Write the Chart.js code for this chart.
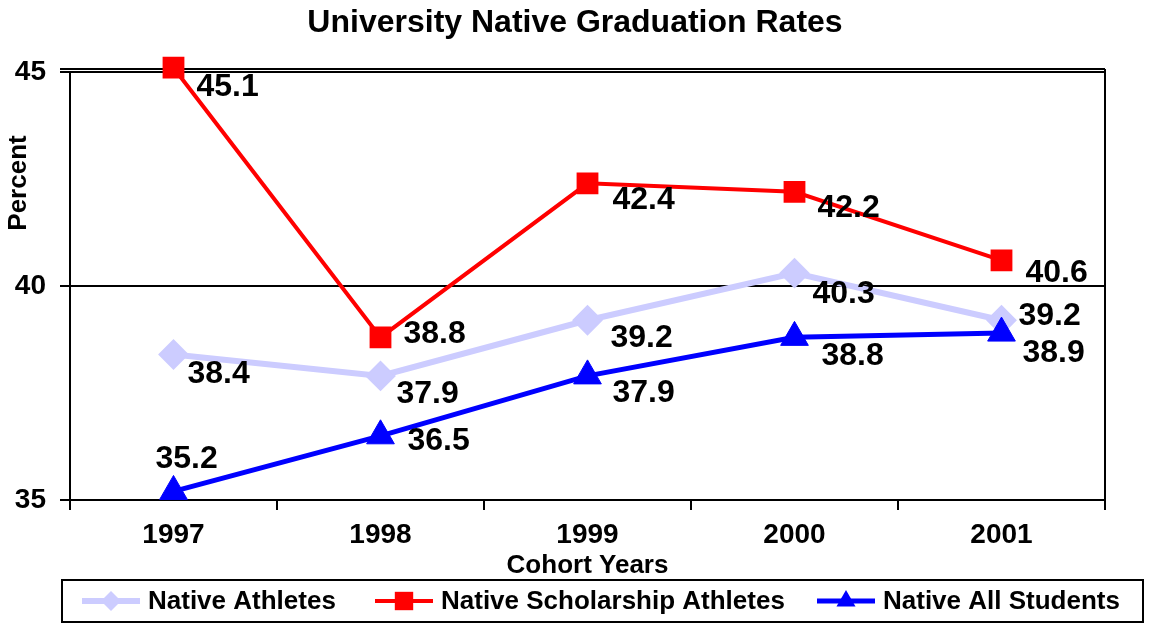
<!DOCTYPE html>
<html><head><meta charset="utf-8">
<script src="https://cdn.jsdelivr.net/npm/chart.js@4.4.1/dist/chart.umd.min.js"></script>
<style>html,body{margin:0;padding:0;background:#fff}#wrap{width:1150px;height:625px}</style>
</head><body><div id="wrap"><canvas id="c" width="1150" height="625"></canvas></div>
<script>
// ---- data ----
const chartTitle = 'University Native Graduation Rates';
const xAxisTitle = 'Cohort Years';
const yAxisTitle = 'Percent';
const cohortYears = ['1997', '1998', '1999', '2000', '2001'];
const nativeAthletes = [38.4, 37.9, 39.2, 40.3, 39.2];
const nativeScholarshipAthletes = [45.1, 38.8, 42.4, 42.2, 40.6];
const nativeAllStudents = [35.2, 36.5, 37.9, 38.8, 38.9];
const yTicks = [35, 40, 45];
const seriesNames = ['Native Athletes', 'Native Scholarship Athletes', 'Native All Students'];

// ---- styling ----
const FONT = '"Liberation Sans", Arial, Helvetica, sans-serif';
const seriesColors = ['#CCCCFF', '#FF0000', '#0000FF'];
// data label offsets (dx = left edge, dy = vertical centre) per series, per point
const labelOffsets = [
  [[14, 20], [16, 18], [23, 18], [18, 21], [17, -4]],
  [[23, 19], [23, -3], [25, 17], [23, 16], [24, 13]],
  [[-18, -32], [27, 5], [25, 17], [27, 19], [21, 20]]
];
const legendItemX = [82, 375, 817];

function drawMarker(ctx, style, x, y, r, color) {
  ctx.save();
  ctx.fillStyle = color;
  ctx.beginPath();
  if (style === 'rectRot') {
    ctx.moveTo(x - r, y); ctx.lineTo(x, y - r); ctx.lineTo(x + r, y); ctx.lineTo(x, y + r);
  } else if (style === 'rect') {
    const s = r * Math.SQRT1_2;
    ctx.rect(x - s, y - s, 2 * s, 2 * s);
  } else {
    ctx.moveTo(x, y - r);
    ctx.lineTo(x + r * Math.sin(Math.PI / 3), y + r / 2);
    ctx.lineTo(x - r * Math.sin(Math.PI / 3), y + r / 2);
  }
  ctx.closePath();
  ctx.fill();
  ctx.restore();
}

const decor = {
  id: 'decor',
  beforeDatasetsDraw(chart) {
    const ctx = chart.ctx, ca = chart.chartArea;
    ctx.save();
    ctx.strokeStyle = '#000';
    ctx.lineWidth = 2;
    ctx.beginPath();
    ctx.moveTo(ca.right, ca.top - 3); ctx.lineTo(ca.right, ca.bottom);
    ctx.moveTo(ca.left - 10, ca.top - 3); ctx.lineTo(ca.right, ca.top - 3);
    ctx.stroke();
    ctx.restore();
  },
  afterDatasetsDraw(chart) {
    const ctx = chart.ctx;
    ctx.save();
    ctx.fillStyle = '#000';
    ctx.font = 'bold 32px ' + FONT;
    ctx.textAlign = 'left';
    ctx.textBaseline = 'middle';
    chart.data.datasets.forEach((ds, i) => {
      const meta = chart.getDatasetMeta(i);
      meta.data.forEach((pt, j) => {
        const off = labelOffsets[i][j];
        ctx.fillText(ds.data[j].toFixed(1), pt.x + off[0], pt.y + off[1]);
      });
    });
    ctx.restore();
  },
  afterDraw(chart) {
    const ctx = chart.ctx, ca = chart.chartArea;
    ctx.save();
    ctx.fillStyle = '#000';
    ctx.textBaseline = 'middle';
    ctx.textAlign = 'center';
    ctx.font = 'bold 32px ' + FONT;
    ctx.fillText(chartTitle, chart.width / 2, 23);
    ctx.font = 'bold 26px ' + FONT;
    ctx.fillText(xAxisTitle, (ca.left + ca.right) / 2, 566);
    ctx.save();
    ctx.translate(19, 183);
    ctx.rotate(-Math.PI / 2);
    ctx.fillText(yAxisTitle, 0, 0);
    ctx.restore();
    // legend
    ctx.strokeStyle = '#000';
    ctx.lineWidth = 2;
    ctx.strokeRect(62, 580, chart.width - 7 - 62, 42);
    const ly = 601;
    ctx.font = 'bold 26px ' + FONT;
    ctx.textAlign = 'left';
    chart.data.datasets.forEach((ds, i) => {
      const x0 = legendItemX[i];
      ctx.strokeStyle = ds.borderColor;
      ctx.lineWidth = ds.borderWidth;
      ctx.beginPath(); ctx.moveTo(x0, ly); ctx.lineTo(x0 + 58, ly); ctx.stroke();
      const mr = ds.pointStyle === 'rectRot' ? 10 : (ds.pointStyle === 'rect' ? 13 : 11);
      drawMarker(ctx, ds.pointStyle, x0 + 29, ly, mr, ds.borderColor);
      ctx.fillStyle = '#000';
      ctx.fillText(ds.label, x0 + 66, ly + 1);
    });
    ctx.restore();
  }
};

const tickFont = { family: FONT, size: 28, weight: 'bold' };

new Chart(document.getElementById('c'), {
  type: 'line',
  data: {
    labels: cohortYears,
    datasets: [
      { label: seriesNames[0], data: nativeAthletes, borderColor: seriesColors[0], backgroundColor: seriesColors[0],
        borderWidth: 6, pointStyle: 'rectRot', pointRadius: 14, pointBorderWidth: 2, order: 2, clip: false, tension: 0 },
      { label: seriesNames[1], data: nativeScholarshipAthletes, borderColor: seriesColors[1], backgroundColor: seriesColors[1],
        borderWidth: 4, pointStyle: 'rect', pointRadius: 14, pointBorderWidth: 2, order: 1, clip: false, tension: 0 },
      { label: seriesNames[2], data: nativeAllStudents, borderColor: seriesColors[2], backgroundColor: seriesColors[2],
        borderWidth: 5, pointStyle: 'triangle', pointRadius: 16, pointBorderWidth: 1, order: 0, clip: false, tension: 0 }
    ]
  },
  options: {
    responsive: false,
    animation: false,
    devicePixelRatio: 1,
    layout: { padding: { top: 72, right: 45, left: 0, bottom: 0 } },
    plugins: { legend: { display: false }, title: { display: false }, tooltip: { enabled: false } },
    scales: {
      x: {
        offset: true,
        grid: { offset: true, drawOnChartArea: false, drawTicks: true, tickLength: 10, color: '#000', lineWidth: 2 },
        border: { color: '#000', width: 2 },
        ticks: { color: '#000', font: tickFont, padding: 8, maxRotation: 0 },
        afterFit(s) { s.height = 125; }
      },
      y: {
        min: 35, max: 45,
        afterBuildTicks(s) { s.ticks = yTicks.map(v => ({ value: v })); },
        grid: { color: '#000', lineWidth: 2, tickLength: 10, drawTicks: true },
        border: { color: '#000', width: 2 },
        ticks: { color: '#000', font: tickFont, padding: 14 },
        afterFit(s) { s.width = 70; }
      }
    }
  },
  plugins: [decor]
});
</script></body></html>
